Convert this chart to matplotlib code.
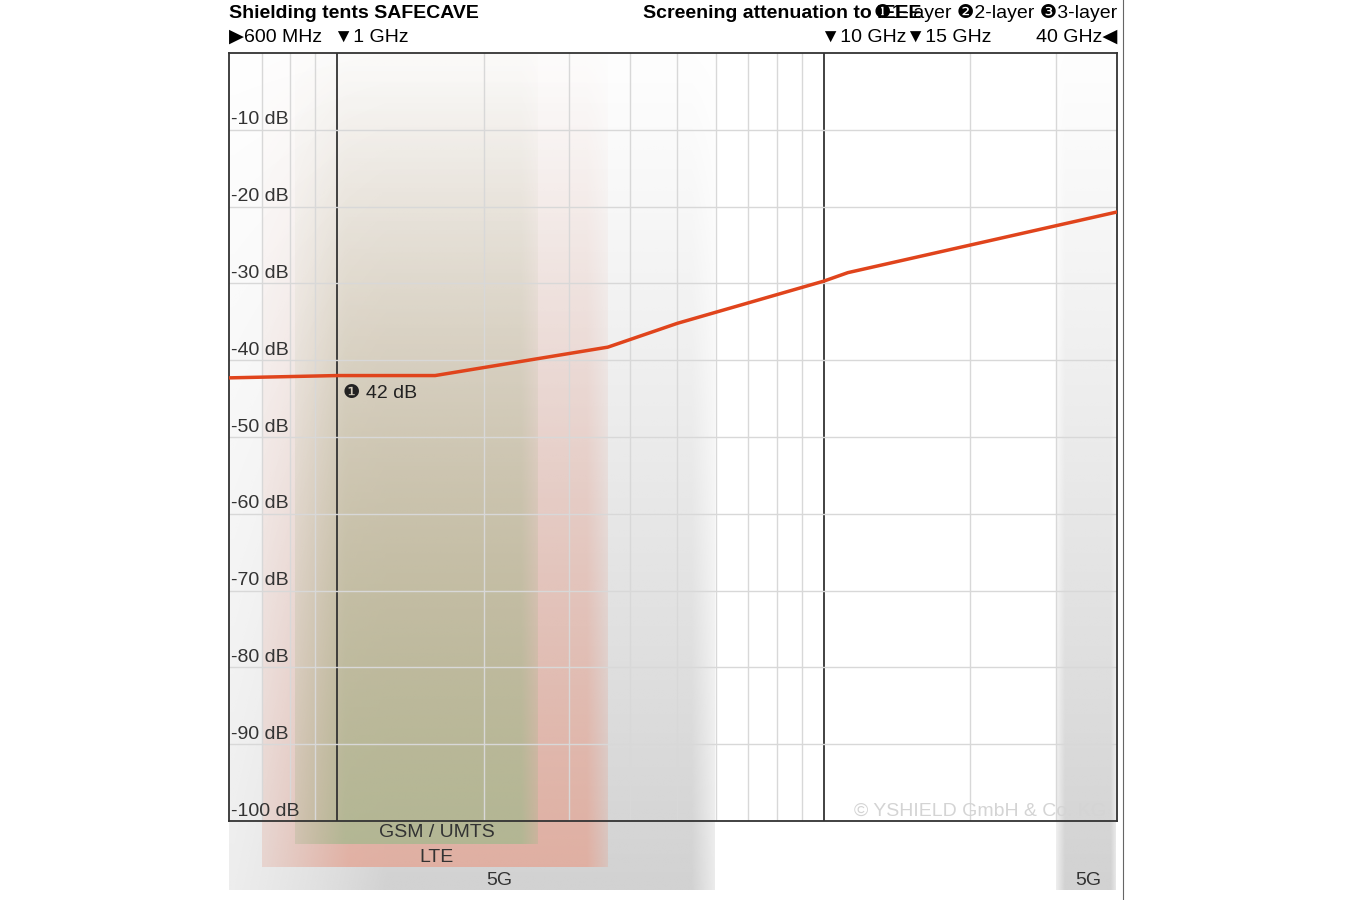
import numpy as np
import matplotlib.pyplot as plt
from matplotlib.colors import to_rgb
from matplotlib.transforms import blended_transform_factory

plt.rcParams['font.family'] = ['Liberation Sans', 'DejaVu Sans']

# attenuation curve, 1-layer (frequency in GHz, dB)
freq = [0.6, 1.0, 1.59, 3.6, 5.0, 10.0, 11.2, 40.0]
atten = [-42.3, -42.0, -42.0, -38.3, -35.2, -29.7, -28.6, -20.7]

y_ticks = [-10, -20, -30, -40, -50, -60, -70, -80, -90, -100]
y_labels = ['%d dB' % v for v in y_ticks]
minor_x = [0.7, 0.8, 0.9, 2, 3, 4, 5, 6, 7, 8, 9, 20, 30]
major_x = [1, 10]

# bands: (f_lo, f_hi, bottom dB, colour, label, label x, label dB)
bands = [
    (0.6, 6.0, -109, '#c8c8c8', '5G', 2.15, -107.8),
    (30.0, 40.0, -109, '#c8c8c8', '5G', 35.0, -107.8),
    (0.7, 3.6, -106, '#e3a898', 'LTE', 1.6, -104.7),
    (0.82, 2.6, -103, '#a9b890', 'GSM / UMTS', 1.6, -101.5),
]

fig = plt.figure(figsize=(13.5, 9), dpi=100)
ax = fig.add_axes([229/1350, 79/900, 888/1350, 768/900])
ax.set_xscale('log')
ax.set_xlim(0.6, 40)
ax.set_ylim(-100, 0)

for lo, hi, bot, col, lab, lx, ly in bands:
    n = 200
    v = np.linspace(0, 1, n)[:, None]
    h = np.linspace(0, 1, n)[None, :]
    edge = np.clip(np.minimum(h, 1 - h) / 0.12, 0, 1)
    alpha = (0.02 + 0.8 * v ** 1.1) * (0.4 + 0.6 * edge)
    img = np.zeros((n, n, 4))
    img[..., :3] = to_rgb(col)
    img[..., 3] = alpha
    ax.imshow(img, extent=[lo, hi, bot, 0], aspect='auto', zorder=1,
              interpolation='bilinear', clip_on=False)
    ax.text(lx, ly, lab, ha='center', va='center', fontsize=14,
            color='#333333', clip_on=False)

for x in minor_x:
    ax.axvline(x, color='#d8d8d8', lw=1, zorder=2)
for x in major_x:
    ax.axvline(x, color='#333333', lw=1.3, zorder=2)
for y in y_ticks[:-1]:
    ax.axhline(y, color='#d8d8d8', lw=1, zorder=2)

ax.plot(freq, atten, color='#e0441c', lw=2.5, zorder=4)
ax.text(1.03, -44.3, '\u2776 42 dB', fontsize=14, color='#222222', va='center', zorder=5)

for y, lab in zip(y_ticks, y_labels):
    ax.text(0.605, y + 1.3, lab, fontsize=14, color='#333333', va='center', zorder=5)
ax.text(38, -98.8, '© YSHIELD GmbH & Co. KG', fontsize=14, color='#d4d4d4', ha='right',
        va='center', zorder=5)

ax.set_xticks([])
ax.set_yticks([])
ax.minorticks_off()
for s in ax.spines.values():
    s.set_color('#333333')
    s.set_linewidth(1.3)

tr = blended_transform_factory(ax.transData, ax.transAxes)
ax.text(0, 1.052, 'Shielding tents SAFECAVE', transform=ax.transAxes, fontsize=14,
        fontweight='bold', va='center')
ax.text(1, 1.052, '\u27761-layer \u27772-layer \u27783-layer',
        transform=ax.transAxes, fontsize=14, ha='right', va='center')
ax.text(0.7795, 1.052, 'Screening attenuation to IEEE', transform=ax.transAxes, fontsize=14,
        fontweight='bold', ha='right', va='center')
ax.text(0, 1.021, '\u25b6600 MHz', transform=ax.transAxes, fontsize=14, va='center')
for f, lab in [(1, '\u25bc1 GHz'), (10, '\u25bc10 GHz'), (15, '\u25bc15 GHz')]:
    ax.text(f * 0.985, 1.021, lab, transform=tr, fontsize=14, va='center', ha='left')
ax.text(1, 1.021, '40 GHz\u25c0', transform=ax.transAxes, fontsize=14, ha='right', va='center')

fig.add_artist(plt.Line2D([1123/1350, 1123/1350], [0, 1], color='#666666', lw=0.8))

fig.savefig('out.png', dpi=100)
